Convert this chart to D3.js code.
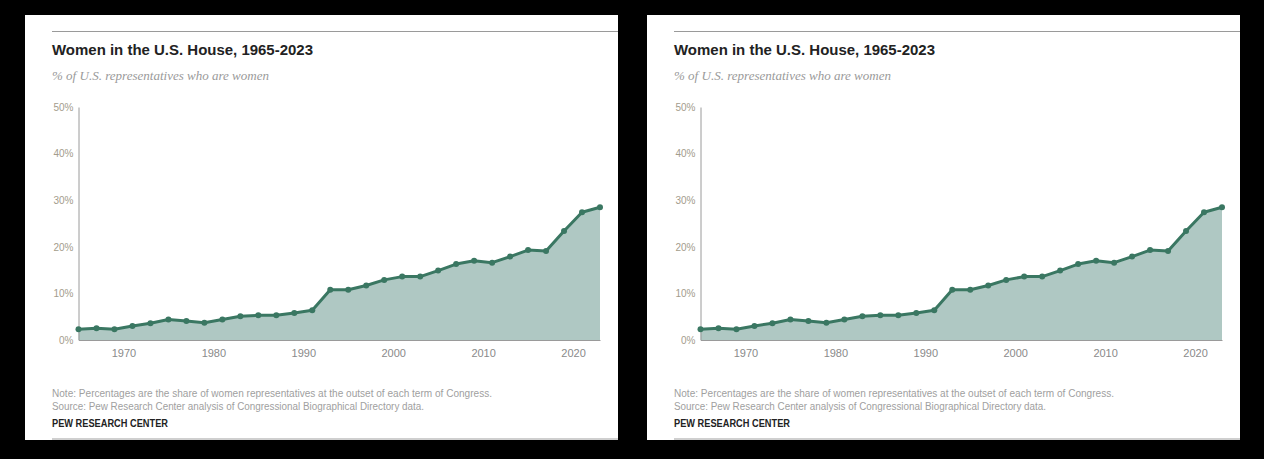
<!DOCTYPE html>
<html>
<head>
<meta charset="utf-8">
<script src="https://cdn.jsdelivr.net/npm/d3@7"></script>
<style>
  html, body { margin: 0; padding: 0; background: #000; }
  svg { display: block; }
</style>
</head>
<body>
<svg id="chart" width="1264" height="459"></svg>
<script>
// years of each new Congress and share of women at its outset (%)
const years = [1965, 1967, 1969, 1971, 1973, 1975, 1977, 1979, 1981, 1983,
               1985, 1987, 1989, 1991, 1993, 1995, 1997, 1999, 2001, 2003,
               2005, 2007, 2009, 2011, 2013, 2015, 2017, 2019, 2021, 2023];
const share = [2.3, 2.5, 2.3, 3.0, 3.6, 4.4, 4.1, 3.7, 4.4, 5.1,
               5.3, 5.3, 5.8, 6.4, 10.8, 10.8, 11.7, 12.9, 13.6, 13.6,
               14.9, 16.3, 17.0, 16.6, 17.9, 19.3, 19.1, 23.4, 27.4, 28.5];
const yTicks = [0, 10, 20, 30, 40, 50];
const xTicks = [1970, 1980, 1990, 2000, 2010, 2020];

const title = "Women in the U.S. House, 1965-2023";
const subtitle = "% of U.S. representatives who are women";
const noteLines = [
  "Note: Percentages are the share of women representatives at the outset of each term of Congress.",
  "Source: Pew Research Center analysis of Congressional Biographical Directory data."
];
const credit = "PEW RESEARCH CENTER";

const sans = "'Liberation Sans', Arial, sans-serif";
const serif = "'Liberation Serif', Georgia, serif";

const svg = d3.select("#chart");

const data = years.map((y, i) => ({year: y, value: share[i]}));

// squeeze/stretch a text node to a given width
const fitWidth = (sel, w) => {
    sel.attr("textLength", w).attr("lengthAdjust", "spacingAndGlyphs");
};

const drawPanel = (offsetX) => {
    const g = svg.append("g").attr("transform", `translate(${offsetX},0)`);

    // white card
    g.append("rect")
        .attr("x", 25).attr("y", 15)
        .attr("width", 593).attr("height", 425)
        .attr("fill", "#fff");

    g.append("line")
        .attr("x1", 52).attr("x2", 618)
        .attr("y1", 31.5).attr("y2", 31.5)
        .attr("stroke", "#9a9a9a").attr("stroke-width", 1);

    g.append("line")
        .attr("x1", 52).attr("x2", 618)
        .attr("y1", 439).attr("y2", 439)
        .attr("stroke", "#cfcfcf").attr("stroke-width", 2);

    g.append("text")
        .attr("x", 52).attr("y", 55)
        .style("font-family", sans)
        .style("font-weight", "bold")
        .style("font-size", "15px")
        .attr("fill", "#222")
        .text(title)
        .call(fitWidth, 261);

    g.append("text")
        .attr("x", 52).attr("y", 80)
        .style("font-family", serif)
        .style("font-style", "italic")
        .style("font-size", "13px")
        .attr("fill", "#9a9a9a")
        .text(subtitle)
        .call(fitWidth, 217);

    const x = d3.scaleLinear().domain([1965, 2023]).range([78.5, 600]);
    const y = d3.scaleLinear().domain([0, 50]).range([340, 107]);

    const area = d3.area()
        .x(d => x(d.year))
        .y0(y(0))
        .y1(d => y(d.value));

    const line = d3.line()
        .x(d => x(d.year))
        .y(d => y(d.value));

    g.append("path")
        .datum(data)
        .attr("d", area)
        .attr("fill", "#afc8c3");

    // y axis
    const yAxis = g.append("g")
        .attr("transform", `translate(${x(1965)},0)`)
        .call(d3.axisLeft(y).tickValues(yTicks).tickSize(0).tickPadding(5).tickFormat(d => d + "%"));
    yAxis.select(".domain").attr("stroke", "#9a9a9a");
    yAxis.selectAll("text")
        .style("font-family", sans)
        .style("font-size", "10px")
        .attr("fill", "#a39c8c");

    // x axis
    const xAxis = g.append("g")
        .attr("transform", `translate(0,${y(0)})`)
        .call(d3.axisBottom(x).tickValues(xTicks).tickSize(0).tickPadding(9).tickFormat(d3.format("d")));
    xAxis.select(".domain").attr("stroke", "#9a9a9a");
    xAxis.selectAll("text")
        .style("font-family", sans)
        .style("font-size", "11px")
        .attr("fill", "#8a8a8a");

    g.append("path")
        .datum(data)
        .attr("d", line)
        .attr("fill", "none")
        .attr("stroke", "#3a7762")
        .attr("stroke-width", 3)
        .attr("stroke-linejoin", "round");

    g.selectAll(".dot")
        .data(data)
        .enter()
        .append("circle")
        .attr("class", "dot")
        .attr("cx", d => x(d.year))
        .attr("cy", d => y(d.value))
        .attr("r", 3)
        .attr("fill", "#3a7762");

    const noteWidths = [440, 372];
    g.selectAll(".note")
        .data(noteLines)
        .enter()
        .append("text")
        .attr("class", "note")
        .attr("x", 52)
        .attr("y", (d, i) => 397 + i * 13)
        .style("font-family", sans)
        .style("font-size", "10px")
        .attr("fill", "#a0a0a0")
        .text(d => d)
        .attr("textLength", (d, i) => noteWidths[i])
        .attr("lengthAdjust", "spacingAndGlyphs");

    g.append("text")
        .attr("x", 52).attr("y", 427)
        .style("font-family", sans)
        .style("font-size", "10px")
        .style("font-weight", "bold")
        .attr("fill", "#222")
        .text(credit)
        .call(fitWidth, 116);
};

drawPanel(0);
drawPanel(622);
</script>
</body>
</html>
